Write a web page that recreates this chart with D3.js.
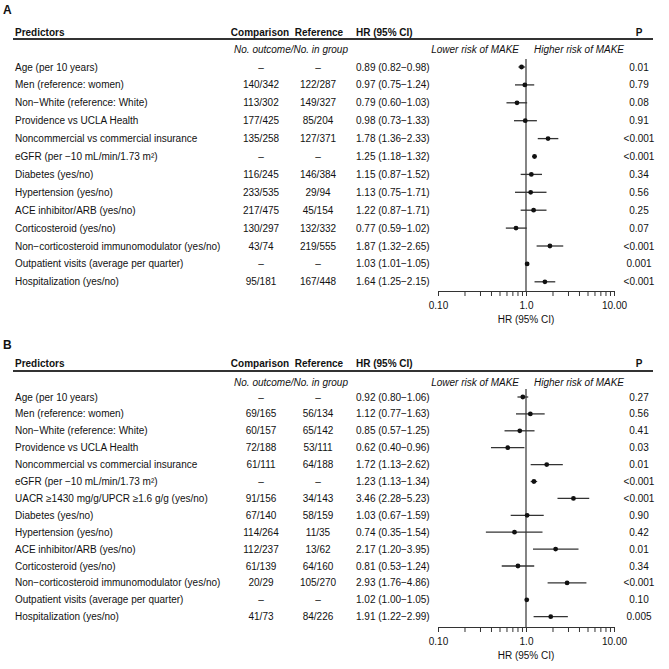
<!DOCTYPE html>
<html>
<head>
<meta charset="utf-8">
<script src="https://cdn.jsdelivr.net/npm/d3@7"></script>
<style>
  body { margin: 0; background: #fff; }
  svg text { font-family: "Liberation Sans", Arial, sans-serif; font-size: 10px; fill: #111; }
</style>
</head>
<body>
<div id="chart"></div>
<script>
var chart_width = 669;
var chart_height = 669;

// Panel A data
var predictors_a = ['Age (per 10 years)', 'Men (reference: women)', 'Non\u2212White (reference: White)',
    'Providence vs UCLA Health', 'Noncommercial vs commercial insurance', 'eGFR (per \u221210 mL/min/1.73 m\u00b2)',
    'Diabetes (yes/no)', 'Hypertension (yes/no)', 'ACE inhibitor/ARB (yes/no)', 'Corticosteroid (yes/no)',
    'Non\u2212corticosteroid immunomodulator (yes/no)', 'Outpatient visits (average per quarter)', 'Hospitalization (yes/no)'];
var comparison_a = ['\u2013', '140/342', '113/302', '177/425', '135/258', '\u2013', '116/245', '233/535', '217/475', '130/297', '43/74', '\u2013', '95/181'];
var reference_a = ['\u2013', '122/287', '149/327', '85/204', '127/371', '\u2013', '146/384', '29/94', '45/154', '132/332', '219/555', '\u2013', '167/448'];
var hr_a = [0.89, 0.97, 0.79, 0.98, 1.78, 1.25, 1.15, 1.13, 1.22, 0.77, 1.87, 1.03, 1.64];
var lo_a = [0.82, 0.75, 0.60, 0.73, 1.36, 1.18, 0.87, 0.75, 0.87, 0.59, 1.32, 1.01, 1.25];
var hi_a = [0.98, 1.24, 1.03, 1.33, 2.33, 1.32, 1.52, 1.71, 1.71, 1.02, 2.65, 1.05, 2.15];
var p_a = ['0.01', '0.79', '0.08', '0.91', '<0.001', '<0.001', '0.34', '0.56', '0.25', '0.07', '<0.001', '0.001', '<0.001'];

// Panel B data
var predictors_b = ['Age (per 10 years)', 'Men (reference: women)', 'Non\u2212White (reference: White)',
    'Providence vs UCLA Health', 'Noncommercial vs commercial insurance', 'eGFR (per \u221210 mL/min/1.73 m\u00b2)',
    'UACR \u22651430 mg/g/UPCR \u22651.6 g/g (yes/no)', 'Diabetes (yes/no)', 'Hypertension (yes/no)',
    'ACE inhibitor/ARB (yes/no)', 'Corticosteroid (yes/no)', 'Non\u2212corticosteroid immunomodulator (yes/no)',
    'Outpatient visits (average per quarter)', 'Hospitalization (yes/no)'];
var comparison_b = ['\u2013', '69/165', '60/157', '72/188', '61/111', '\u2013', '91/156', '67/140', '114/264', '112/237', '61/139', '20/29', '\u2013', '41/73'];
var reference_b = ['\u2013', '56/134', '65/142', '53/111', '64/188', '\u2013', '34/143', '58/159', '11/35', '13/62', '64/160', '105/270', '\u2013', '84/226'];
var hr_b = [0.92, 1.12, 0.85, 0.62, 1.72, 1.23, 3.46, 1.03, 0.74, 2.17, 0.81, 2.93, 1.02, 1.91];
var lo_b = [0.80, 0.77, 0.57, 0.40, 1.13, 1.13, 2.28, 0.67, 0.35, 1.20, 0.53, 1.76, 1.00, 1.22];
var hi_b = [1.06, 1.63, 1.25, 0.96, 2.62, 1.34, 5.23, 1.59, 1.54, 3.95, 1.24, 4.86, 1.05, 2.99];
var p_b = ['0.27', '0.56', '0.41', '0.03', '0.01', '<0.001', '<0.001', '0.90', '0.42', '0.01', '0.34', '<0.001', '0.10', '0.005'];

var tick_values = [0.1, 0.2, 0.3, 0.4, 0.5, 0.6, 0.7, 0.8, 0.9, 1, 2, 3, 4, 5, 6, 7, 8, 9, 10];
var tick_labels = {0.1: '0.10', 1: '1.0', 10: '10.00'};

var svg = d3.select('#chart')
    .append('svg')
    .attr('width', chart_width)
    .attr('height', chart_height);

var x_scale = d3.scaleLog()
    .domain([0.1, 10])
    .range([438, 614]);

function fmt(v) { return v.toFixed(2); }

function drawPanel(cfg) {
    var n = cfg.predictors.length;
    var g = svg.append('g');

    var y_scale = d3.scalePoint()
        .domain(d3.range(n))
        .range([cfg.first, cfg.first + cfg.step * (n - 1)]);

    g.append('text').attr('x', 3).attr('y', cfg.top).attr('dy', '0.35em')
        .style('font-weight', 'bold').style('font-size', '12px').text(cfg.letter);

    // header
    var hy = cfg.top + cfg.headerOff;
    var header = [
        {t: 'Predictors', x: 15, a: 'start'},
        {t: 'Comparison', x: 260, a: 'middle'},
        {t: 'Reference', x: 319, a: 'middle'},
        {t: 'HR (95% CI)', x: 356, a: 'start'},
        {t: 'P', x: 639, a: 'middle'}
    ];
    g.selectAll('.hd').data(header).enter().append('text')
        .attr('x', function(d){ return d.x; })
        .attr('y', hy).attr('dy', '0.35em')
        .attr('text-anchor', function(d){ return d.a; })
        .style('font-weight', 'bold')
        .text(function(d){ return d.t; });

    g.append('line')
        .attr('x1', 13).attr('x2', 653)
        .attr('y1', hy + cfg.lineOff).attr('y2', hy + cfg.lineOff)
        .attr('stroke', '#333').attr('stroke-width', 2);

    var sy = hy + cfg.subOff;
    g.append('text').attr('x', 348).attr('y', sy).attr('dy', '0.35em')
        .attr('text-anchor', 'end').style('font-style', 'italic')
        .text('No. outcome/No. in group');
    g.append('text').attr('x', 519).attr('y', sy).attr('dy', '0.35em')
        .attr('text-anchor', 'end').style('font-style', 'italic')
        .text('Lower risk of MAKE');
    g.append('text').attr('x', 534).attr('y', sy).attr('dy', '0.35em')
        .attr('text-anchor', 'start').style('font-style', 'italic')
        .text('Higher risk of MAKE');

    var rows = d3.range(n);

    var cols = [
        {vals: cfg.predictors, x: 15, a: 'start'},
        {vals: cfg.comparison, x: 261, a: 'middle'},
        {vals: cfg.reference, x: 318, a: 'middle'},
        {vals: cfg.hr.map(function(h, i){ return fmt(h) + ' (' + fmt(cfg.lo[i]) + '\u2212' + fmt(cfg.hi[i]) + ')'; }), x: 356, a: 'start'},
        {vals: cfg.p, x: 639, a: 'middle'}
    ];
    cols.forEach(function(c){
        g.selectAll(null).data(rows).enter().append('text')
            .attr('x', c.x)
            .attr('y', function(i){ return y_scale(i); })
            .attr('dy', '0.35em')
            .attr('text-anchor', c.a)
            .text(function(i){ return c.vals[i]; });
    });

    // reference line at HR = 1
    g.append('line')
        .attr('x1', x_scale(1)).attr('x2', x_scale(1))
        .attr('y1', cfg.first - 8).attr('y2', cfg.axisY)
        .attr('stroke', '#333').attr('stroke-width', 1.2);

    // CI lines
    g.selectAll('.ci').data(rows).enter().append('line')
        .attr('x1', function(i){ return x_scale(cfg.lo[i]); })
        .attr('x2', function(i){ return x_scale(cfg.hi[i]); })
        .attr('y1', function(i){ return y_scale(i); })
        .attr('y2', function(i){ return y_scale(i); })
        .attr('stroke', '#333').attr('stroke-width', 1.3);

    g.selectAll('.pt').data(rows).enter().append('circle')
        .attr('cx', function(i){ return x_scale(cfg.hr[i]); })
        .attr('cy', function(i){ return y_scale(i); })
        .attr('r', 2.4)
        .attr('fill', '#111');

    // axis
    var x_axis = d3.axisBottom(x_scale)
        .tickValues(tick_values)
        .tickSize(5)
        .tickSizeOuter(0)
        .tickFormat(function(d){ return tick_labels[d] || ''; });
    var ax = g.append('g')
        .attr('transform', 'translate(0,' + cfg.axisY + ')')
        .call(x_axis);
    ax.select('.domain').attr('stroke', '#333').attr('stroke-width', 1.2);
    ax.selectAll('.tick line').attr('stroke', '#333');
    ax.selectAll('.tick text')
        .style('font-family', '"Liberation Sans", Arial, sans-serif')
        .style('font-size', '10px')
        .attr('fill', '#111')
        .attr('y', 11);

    g.append('text').attr('x', x_scale(1)).attr('y', cfg.axisY + 28).attr('dy', '0.35em')
        .attr('text-anchor', 'middle').text('HR (95% CI)');
}

drawPanel({
    letter: 'A', top: 10, headerOff: 22, lineOff: 7, subOff: 17,
    first: 67, step: 17.9, axisY: 291,
    predictors: predictors_a, comparison: comparison_a, reference: reference_a,
    hr: hr_a, lo: lo_a, hi: hi_a, p: p_a
});

drawPanel({
    letter: 'B', top: 345, headerOff: 18, lineOff: 8, subOff: 19,
    first: 397, step: 16.9, axisY: 627,
    predictors: predictors_b, comparison: comparison_b, reference: reference_b,
    hr: hr_b, lo: lo_b, hi: hi_b, p: p_b
});
</script>
</body>
</html>
